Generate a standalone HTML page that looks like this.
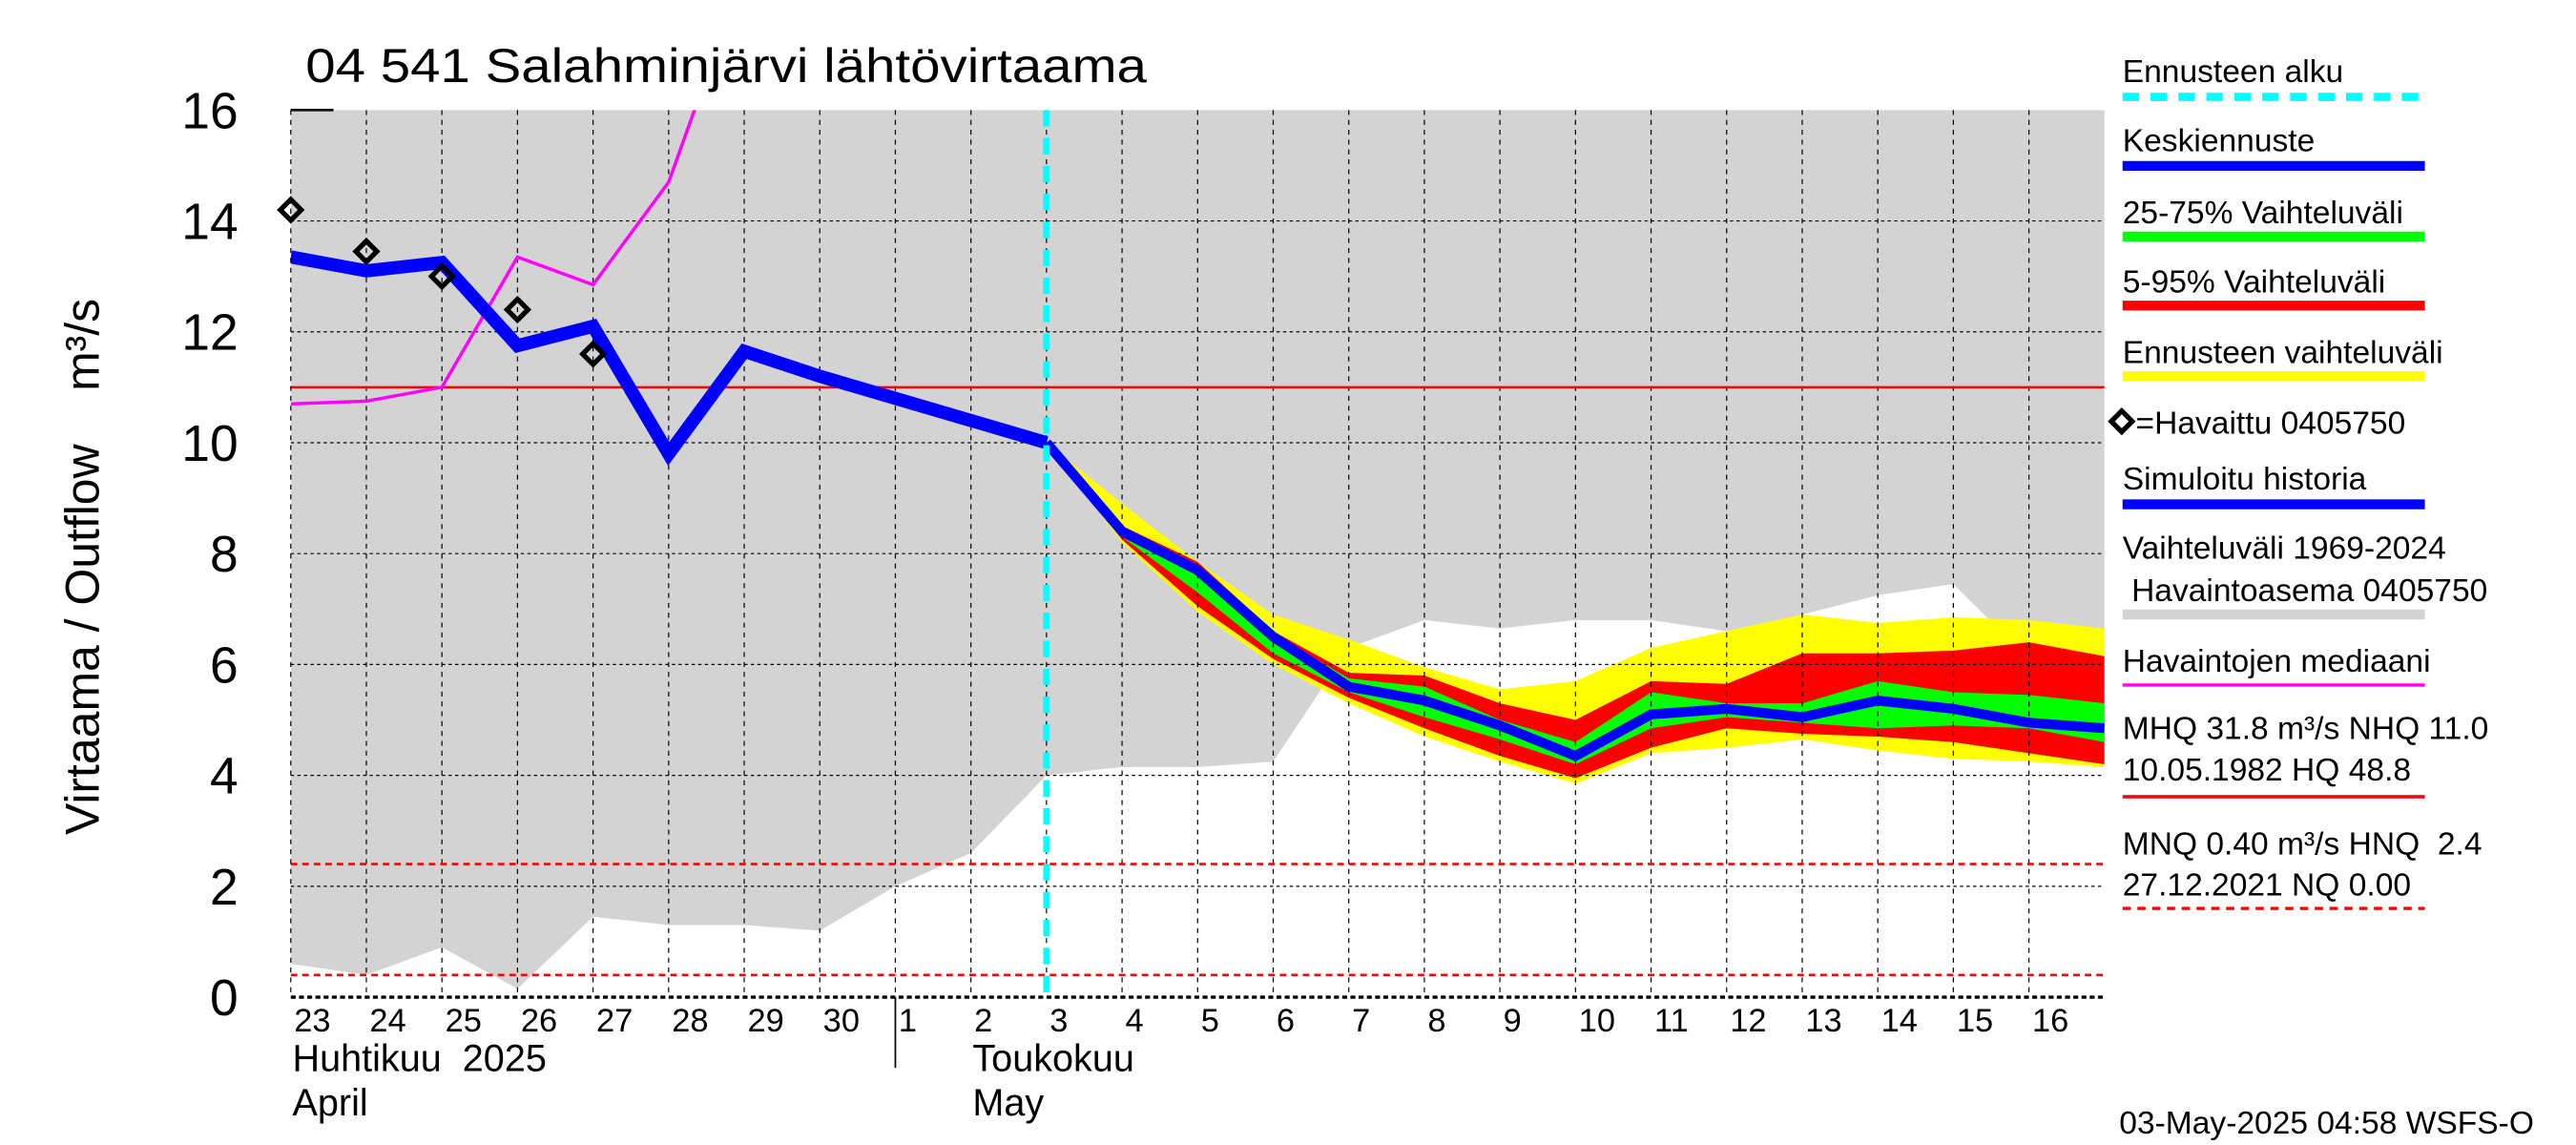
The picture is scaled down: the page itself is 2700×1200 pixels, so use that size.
<!DOCTYPE html>
<html><head><meta charset="utf-8"><style>
html,body{margin:0;padding:0;background:#fff;}
svg{display:block;font-family:"Liberation Sans",sans-serif;}
text{white-space:pre;}
</style></head><body>
<svg id="chart" width="2700" height="1200" viewBox="0 0 1568 697" preserveAspectRatio="none" xmlns="http://www.w3.org/2000/svg" xml:space="preserve">
<g id="bands"></g>
<g id="grid"></g>
<g id="series"></g>
<g id="axes"></g>
<text x="186" y="50" font-size="29" textLength="512" lengthAdjust="spacingAndGlyphs">04 541 Salahminjärvi lähtövirtaama</text>
<text transform="translate(60,345) rotate(-90)" text-anchor="middle" font-size="29">Virtaama / Outflow    m³/s</text>
<text x="178" y="652" font-size="23">Huhtikuu  2025</text>
<text x="178" y="679" font-size="23">April</text>
<text x="592" y="652" font-size="23">Toukokuu</text>
<text x="592" y="679" font-size="23">May</text>
<line x1="545" y1="607" x2="545" y2="650" stroke="#000" stroke-width="1"/>
<g id="legend" font-size="19.5">
<text x="1292" y="50">Ennusteen alku</text>
<line x1="1292" y1="59" x2="1476" y2="59" stroke="#00ffff" stroke-width="5" stroke-dasharray="10,7"/>
<text x="1292" y="92">Keskiennuste</text>
<line x1="1292" y1="101" x2="1476" y2="101" stroke="#0000ff" stroke-width="6"/>
<text x="1292" y="136">25-75% Vaihteluväli</text>
<line x1="1292" y1="144" x2="1476" y2="144" stroke="#00ff00" stroke-width="6"/>
<text x="1292" y="178">5-95% Vaihteluväli</text>
<line x1="1292" y1="186" x2="1476" y2="186" stroke="#ff0000" stroke-width="6"/>
<text x="1292" y="221">Ennusteen vaihteluväli</text>
<line x1="1292" y1="229" x2="1476" y2="229" stroke="#ffff00" stroke-width="6"/>
<rect x="1287" y="252" width="9" height="9" transform="rotate(45 1291.5 256.5)" fill="none" stroke="#000" stroke-width="3"/>
<text x="1300" y="264">=Havaittu 0405750</text>
<text x="1292" y="298">Simuloitu historia</text>
<line x1="1292" y1="307" x2="1476" y2="307" stroke="#0000ff" stroke-width="6"/>
<text x="1292" y="340">Vaihteluväli 1969-2024</text>
<text x="1292" y="366"> Havaintoasema 0405750</text>
<line x1="1292" y1="374" x2="1476" y2="374" stroke="#d3d3d3" stroke-width="6"/>
<text x="1292" y="409">Havaintojen mediaani</text>
<line x1="1292" y1="417" x2="1476" y2="417" stroke="#ff00ff" stroke-width="2"/>
<text x="1292" y="450">MHQ 31.8 m³/s NHQ 11.0</text>
<text x="1292" y="475">10.05.1982 HQ 48.8</text>
<line x1="1292" y1="485" x2="1476" y2="485" stroke="#ff0000" stroke-width="2"/>
<text x="1292" y="520">MNQ 0.40 m³/s HNQ  2.4</text>
<text x="1292" y="545">27.12.2021 NQ 0.00</text>
<line x1="1292" y1="553" x2="1476" y2="553" stroke="#ff0000" stroke-width="2" stroke-dasharray="5,4"/>
</g>
<text x="1290" y="690" font-size="19.5">03-May-2025 04:58 WSFS-O</text>
</svg>
<script>
const dayLabels = ["23","24","25","26","27","28","29","30","1","2","3","4","5","6","7","8","9","10","11","12","13","14","15","16"];
const yTicks = [0,2,4,6,8,10,12,14,16];
const histLow = [0.6,0.4,0.9,0.15,1.45,1.3,1.3,1.2,2.0,2.6,4.0,4.15,4.15,4.25,6.3,6.8,6.65,6.8,6.8,6.6,6.9,7.25,7.45,6.1,6.1];
const simulated = [13.35,13.1,13.25,11.75,12.1,9.8,11.65,11.2,10.8,10.4,10.0];
const observed = [14.2,13.45,13.0,12.4,11.6];
const median = [10.7,10.75,11.0,13.35,12.85,14.7,18.5];
const forecastMean = [10.0,8.4,7.7,6.5,5.6,5.35,4.9,4.35,5.1,5.2,5.05,5.35,5.2,4.95,4.85];
const yelHi = [10.0,8.9,7.85,6.9,6.45,5.95,5.55,5.7,6.3,6.6,6.9,6.75,6.85,6.8,6.65];
const yelLo = [10.0,8.2,6.95,6.0,5.3,4.7,4.25,3.85,4.4,4.5,4.65,4.45,4.3,4.25,4.15];
const redHi = [10.0,8.5,7.85,6.6,5.85,5.8,5.3,5.0,5.7,5.65,6.2,6.2,6.25,6.4,6.15];
const redLo = [10.0,8.25,7.05,6.1,5.4,4.85,4.35,3.95,4.5,4.85,4.75,4.7,4.6,4.4,4.2];
const grnHi = [10.0,8.45,7.8,6.55,5.75,5.6,5.0,4.6,5.5,5.3,5.3,5.7,5.5,5.45,5.3];
const grnLo = [10.0,8.3,7.3,6.2,5.5,5.05,4.65,4.2,4.85,5.05,4.95,4.85,4.9,4.85,4.6];
const NHQ = 11.0, HNQ = 2.4, MNQ = 0.4;
const forecastStart = 10, nDays = 24;

const NS="http://www.w3.org/2000/svg";
const L=177,R=1281,T=67,B=607;
const xs=d=>L+d*(R-L)/nDays;
const ys=v=>B-v*(B-T)/16;
function mk(tag,parent,attrs){const e=document.createElementNS(NS,tag);for(const k in attrs)e.setAttribute(k,attrs[k]);parent.appendChild(e);return e;}
const bands=document.getElementById('bands'),grid=document.getElementById('grid'),series=document.getElementById('series'),axes=document.getElementById('axes');
const defs=mk('defs',document.getElementById('chart'),{});
const cp=mk('clipPath',defs,{id:'pc'});mk('rect',cp,{x:L,y:T,width:R-L,height:B-T});
bands.setAttribute('clip-path','url(#pc)');series.setAttribute('clip-path','url(#pc)');
let p='M'+xs(0)+','+T;
histLow.forEach((v,i)=>p+=' L'+xs(i)+','+ys(v));
p+=' L'+xs(nDays)+','+T+' Z';
const g=mk('path',bands,{d:p,fill:'#d3d3d3'});


function band(hi,lo,col,name){let d='';hi.forEach((v,i)=>d+=(i?' L':'M')+xs(forecastStart+i)+','+ys(v));for(let i=lo.length-1;i>=0;i--)d+=' L'+xs(forecastStart+i)+','+ys(lo[i]);d+=' Z';const e=mk('path',bands,{d:d,fill:col});

}
band(yelHi,yelLo,'#ffff00','forecast-range-band');
band(redHi,redLo,'#ff0000','band-5-95');
band(grnHi,grnLo,'#00ff00','band-25-75');
for(let i=1;i<nDays;i++){const e=mk('line',grid,{x1:xs(i),y1:T,x2:xs(i),y2:B,stroke:'#000','stroke-width':0.7,'stroke-dasharray':'3,3'});

}
yTicks.forEach(v=>{if(v>0&&v<16){const e=mk('line',grid,{x1:L,y1:ys(v),x2:R,y2:ys(v),stroke:'#000','stroke-width':0.7,'stroke-dasharray':'2,2'});

}});
let e=mk('line',series,{x1:L,y1:ys(NHQ),x2:R,y2:ys(NHQ),stroke:'#ff0000','stroke-width':1.5});


e=mk('line',series,{x1:L,y1:ys(HNQ),x2:R,y2:ys(HNQ),stroke:'#ff0000','stroke-width':1.5,'stroke-dasharray':'4,3'});


e=mk('line',series,{x1:L,y1:ys(MNQ),x2:R,y2:ys(MNQ),stroke:'#ff0000','stroke-width':1.5,'stroke-dasharray':'4,3'});


function line(arr,off,col,w,name){const pts=arr.map((v,i)=>xs(off+i)+','+ys(v)).join(' ');const e=mk('polyline',series,{points:pts,fill:'none',stroke:col,'stroke-width':w,'stroke-linejoin':'miter'});

}
line(median,0,'#ff00ff',2,'median-line');
line(simulated,0,'#0000ff',8,'simulated-history-line');
line(forecastMean,forecastStart,'#0000ff',6,'mean-forecast-line');
e=mk('line',series,{x1:xs(forecastStart),y1:T,x2:xs(forecastStart),y2:B,stroke:'#00ffff','stroke-width':4,'stroke-dasharray':'10,7'});


observed.forEach((v,i)=>{const cx=xs(i),cy=ys(v);const d=mk('rect',axes,{x:cx-4.5,y:cy-4.5,width:9,height:9,transform:'rotate(45 '+cx+' '+cy+')',fill:'none',stroke:'#000','stroke-width':3});

});
e=mk('line',axes,{x1:L,y1:B,x2:R,y2:B,stroke:'#000','stroke-width':2,'stroke-dasharray':'3,2'});


e=mk('line',axes,{x1:L,y1:T,x2:L,y2:B,stroke:'#000','stroke-width':0.7,'stroke-dasharray':'3,3'});


mk('line',axes,{x1:L,y1:T,x2:L+26,y2:T,stroke:'#000','stroke-width':1.5});
yTicks.forEach(v=>{const t=mk('text',axes,{x:145,y:ys(v)+11,'text-anchor':'end','font-size':31});t.textContent=v;

});
dayLabels.forEach((s,i)=>{const t=mk('text',axes,{x:xs(i)+2,y:628,'font-size':20});t.textContent=s;

});
</script>
</body></html>
